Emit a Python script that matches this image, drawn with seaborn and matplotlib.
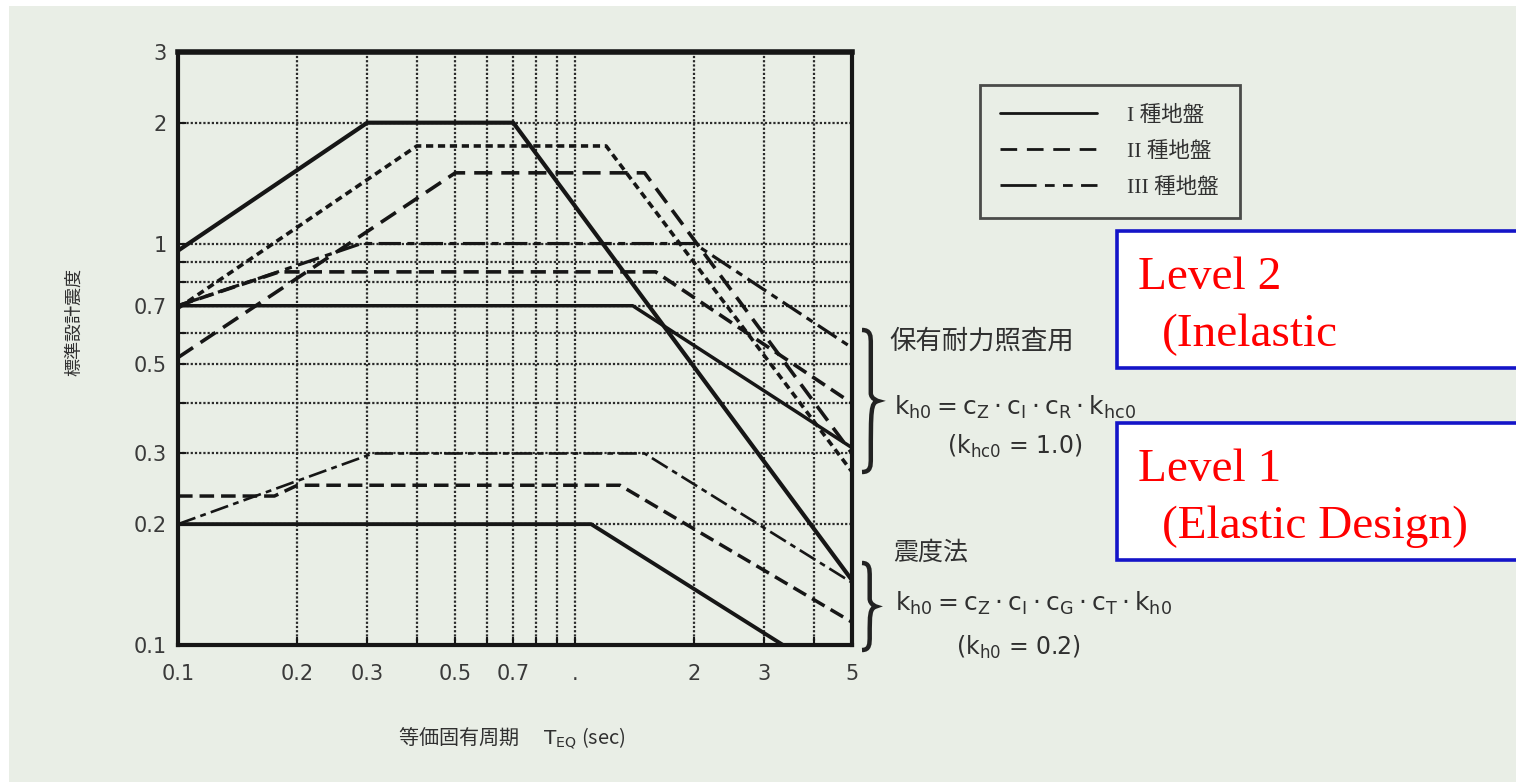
"""
Design seismic coefficient spectra (Level 1 / Level 2) on log-log axes.
"""

import matplotlib
matplotlib.use("Agg")
import matplotlib.pyplot as plt
from matplotlib.lines import Line2D
from matplotlib.patches import Rectangle, PathPatch
from matplotlib.path import Path
from matplotlib.font_manager import FontProperties
import seaborn as sns


# ==========================================================
# Data (period T [sec], design seismic coefficient kh)
# ==========================================================

# Level 2, inland-type earthquake
L2_INLAND_G1_T = [0.1, 0.3, 0.7, 5.0]
L2_INLAND_G1_K = [0.96, 2.0, 2.0, 0.145]
L2_INLAND_G2_T = [0.1, 0.4, 1.2, 5.0]
L2_INLAND_G2_K = [0.69, 1.75, 1.75, 0.27]
L2_INLAND_G3_T = [0.1, 0.5, 1.5, 5.0]
L2_INLAND_G3_K = [0.52, 1.5, 1.5, 0.30]

# Level 2, plate-boundary earthquake
L2_PLATE_G1_T = [0.1, 1.4, 5.0]
L2_PLATE_G1_K = [0.7, 0.7, 0.31]
L2_PLATE_G2_T = [0.1, 0.18, 1.6, 5.0]
L2_PLATE_G2_K = [0.70, 0.85, 0.85, 0.40]
L2_PLATE_G3_T = [0.1, 0.29, 2.0, 5.0]
L2_PLATE_G3_K = [0.70, 1.0, 1.0, 0.55]

# Level 1 (seismic coefficient method)
L1_G1_T = [0.1, 1.1, 3.35]
L1_G1_K = [0.2, 0.2, 0.1]
L1_G2_T = [0.1, 0.175, 0.2, 1.3, 5.0]
L1_G2_K = [0.235, 0.235, 0.25, 0.25, 0.114]
L1_G3_T = [0.1, 0.31, 1.5, 5.0]
L1_G3_K = [0.2, 0.3, 0.3, 0.143]

X_GRID = [0.1, 0.2, 0.3, 0.4, 0.5, 0.6, 0.7, 0.8, 0.9, 1, 2, 3, 4, 5]
X_LABELS = ["0.1", "0.2", "0.3", "", "0.5", "", "0.7", "", "", ".", "2", "3", "", "5"]
Y_GRID = [0.1, 0.2, 0.3, 0.4, 0.5, 0.6, 0.7, 0.8, 0.9, 1, 2, 3]
Y_LABELS = ["0.1", "0.2", "0.3", "", "0.5", "", "0.7", "", "", "1", "2", "3"]

LEGEND_LABELS = ["I 種地盤", "II 種地盤", "III 種地盤"]

# ==========================================================
# Styles
# ==========================================================

W, H = 1516, 782
BG = "#e9eee6"
INK = "#161616"
TXT = "#303030"

SOLID = "-"
DASH = (0, (4.2, 2.0))
LONG_SHORT = (0, (7, 2, 2.2, 2))
DOTTY = (0, (2.0, 1.3))

CURVES = [
    (L2_INLAND_G1_T, L2_INLAND_G1_K, SOLID, 3.0),
    (L2_INLAND_G2_T, L2_INLAND_G2_K, DOTTY, 2.6),
    (L2_INLAND_G3_T, L2_INLAND_G3_K, (0, (5, 2.5)), 2.6),
    (L2_PLATE_G1_T, L2_PLATE_G1_K, SOLID, 2.5),
    (L2_PLATE_G2_T, L2_PLATE_G2_K, DASH, 2.6),
    (L2_PLATE_G3_T, L2_PLATE_G3_K, LONG_SHORT, 2.3),
    (L1_G1_T, L1_G1_K, SOLID, 2.8),
    (L1_G2_T, L1_G2_K, DASH, 2.5),
    (L1_G3_T, L1_G3_K, LONG_SHORT, 1.9),
]


def fx(px):
    return px / W


def fy(py):
    return 1 - py / H


def draw_brace(fig, x0, y_top, y_bot, width):
    ym = (y_top + y_bot) / 2
    xm = x0 + width * 0.55
    pts = [
        (x0, y_top), (xm, y_top), (xm, y_top + 6), (xm, y_top + 14),
        (xm, ym - 8),
        (xm, ym - 2), (x0 + width, ym), (x0 + width, ym),
        (xm, ym + 2), (xm, ym + 8),
        (xm, y_bot - 14),
        (xm, y_bot - 6), (xm, y_bot), (x0, y_bot),
    ]
    codes = [
        Path.MOVETO, Path.CURVE4, Path.CURVE4, Path.CURVE4,
        Path.LINETO,
        Path.CURVE4, Path.CURVE4, Path.CURVE4,
        Path.CURVE4, Path.CURVE4,
        Path.LINETO,
        Path.CURVE4, Path.CURVE4, Path.CURVE4,
    ]
    verts = [(fx(x), fy(y)) for x, y in pts]
    fig.patches.append(PathPatch(Path(verts, codes), transform=fig.transFigure,
                                 fill=False, lw=3.2, edgecolor="#222222"))


def main():
    sns.set_style("ticks")
    plt.rcParams["font.family"] = ["DejaVu Sans", "Noto Sans CJK JP"]
    plt.rcParams["mathtext.fontset"] = "dejavusans"

    fig = plt.figure(figsize=(W / 100, H / 100), dpi=100, facecolor=BG)
    fig.patches.append(Rectangle((0, fy(6)), 1, 6 / H, transform=fig.transFigure,
                                 facecolor="white", edgecolor="none"))
    fig.patches.append(Rectangle((0, 0), 9 / W, 1, transform=fig.transFigure,
                                 facecolor="white", edgecolor="none"))

    ax = fig.add_axes([fx(178), fy(645), fx(852) - fx(178), (645 - 52) / H])
    ax.set_facecolor(BG)
    ax.set_xscale("log")
    ax.set_yscale("log")

    for t, k, ls, lw in CURVES:
        sns.lineplot(x=t, y=k, ax=ax, color=INK, linestyle=ls, linewidth=lw,
                     estimator=None, sort=False, zorder=3)

    ax.set_xlim(0.1, 5)
    ax.set_ylim(0.1, 3)
    ax.minorticks_off()
    ax.set_xticks(X_GRID, X_LABELS)
    ax.set_yticks(Y_GRID, Y_LABELS)
    ax.grid(True, which="major", color="#2a2a2a", linestyle=(0, (1, 0.9)), linewidth=1.6)
    ax.tick_params(axis="both", direction="in", length=6, width=1.5, colors=INK,
                   labelcolor="#3a3a3a")
    ax.tick_params(axis="x", pad=14, labelsize=15)
    ax.tick_params(axis="y", pad=8, labelsize=15)
    for spine in ax.spines.values():
        spine.set_linewidth(3.0)
        spine.set_color(INK)
    ax.spines["top"].set_linewidth(4.0)
    ax.set_xlabel("")
    ax.set_ylabel("")

    # axis titles
    fig.text(fx(512), fy(738), "等価固有周期　 $\\mathrm{T_{EQ}}$ (sec)", ha="center",
             va="center", fontsize=14.5, color=TXT,
             family=["Noto Sans CJK JP", "DejaVu Sans"])
    fig.text(fx(74), fy(322), "標準設計震度", ha="center", va="center", rotation=90,
             fontsize=13, color=TXT, family=["Noto Sans CJK JP"])

    # legend
    handles = [
        Line2D([], [], color=INK, linestyle=SOLID, linewidth=2.0),
        Line2D([], [], color=INK, linestyle=(0, (6, 3.5)), linewidth=2.0),
        Line2D([], [], color=INK, linestyle=(0, (13, 3, 3.5, 3, 3.5, 3)), linewidth=2.0),
    ]
    leg = fig.legend(handles, LEGEND_LABELS, loc="upper left",
                     bbox_to_anchor=(fx(980), fy(85)), frameon=True, fancybox=False,
                     edgecolor="#222222", facecolor=BG, handlelength=4.5,
                     handletextpad=1.4, labelspacing=0.75, borderpad=0.95,
                     borderaxespad=0,
                     prop=FontProperties(family=["Liberation Serif", "Noto Sans CJK JP"],
                                         size=15.5))
    leg.get_frame().set_linewidth(2.0)
    for txt in leg.get_texts():
        txt.set_color(TXT)

    # right-hand annotations
    draw_brace(fig, 862, 330, 472, 16)
    draw_brace(fig, 862, 563, 650, 14)
    cjk = ["Noto Sans CJK JP"]
    fig.text(fx(889), fy(341), "保有耐力照査用", fontsize=19, va="center",
             color=TXT, family=cjk)
    fig.text(fx(894), fy(407),
             r"$\mathrm{k_{h0} = c_Z \cdot c_I \cdot c_R \cdot k_{hc0}}$",
             fontsize=18, va="center", color=TXT)
    fig.text(fx(947), fy(446), r"($\mathrm{k_{hc0}}$ = 1.0)", fontsize=17,
             va="center", color=TXT)
    fig.text(fx(893), fy(553), "震度法", fontsize=18, va="center",
             color=TXT, family=cjk)
    fig.text(fx(895), fy(603),
             r"$\mathrm{k_{h0} = c_Z \cdot c_I \cdot c_G \cdot c_T \cdot k_{h0}}$",
             fontsize=18, va="center", color=TXT)
    fig.text(fx(956), fy(647), r"($\mathrm{k_{h0}}$ = 0.2)", fontsize=17,
             va="center", color=TXT)

    # level boxes
    for top, bot, line1, line2 in [(231, 368, "Level 2", "(Inelastic"),
                                   (423, 560, "Level 1", "(Elastic Design)")]:
        fig.patches.append(Rectangle((fx(1117), fy(bot)), fx(1530) - fx(1117),
                                     (bot - top) / H, transform=fig.transFigure,
                                     facecolor="white", edgecolor="#1414c8",
                                     linewidth=2.6, zorder=5))
        fig.text(fx(1138), fy(top + 58), line1, fontsize=34, color="#ff0000",
                 family="Liberation Serif", va="baseline", zorder=6)
        fig.text(fx(1162), fy(top + 115), line2, fontsize=34, color="#ff0000",
                 family="Liberation Serif", va="baseline", zorder=6)

    fig.savefig("out.png", dpi=100, facecolor=fig.get_facecolor())
    plt.close(fig)


if __name__ == "__main__":
    main()
